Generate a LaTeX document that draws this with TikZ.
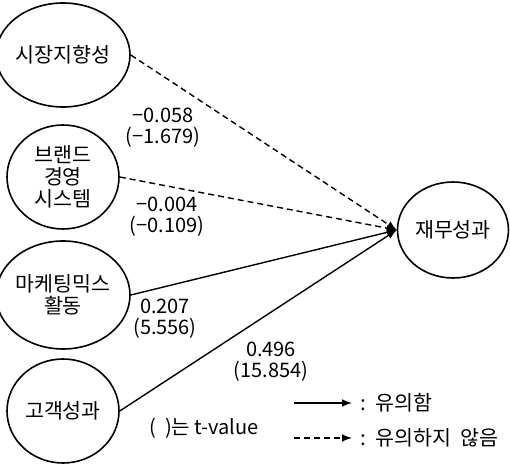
\documentclass[tikz,border=0pt]{standalone}
\usepackage{fontspec}
\setmainfont{Noto Sans CJK KR}
\usetikzlibrary{shapes.geometric,positioning}
\tikzset{lat/.style={draw,ellipse,line width=0.8pt,inner sep=0pt,minimum width=56pt,minimum height=52pt,align=center},
  coef/.style={align=center,inner sep=0pt,font=\fontsize{10}{10.5}\selectfont},
  sig/.style={line width=0.7pt,-latex},
  nsig/.style={sig,dash pattern=on 3pt off 2pt}}

\begin{document}
\begin{tikzpicture}[x=0.5pt,y=-0.5pt,font=\fontsize{10.3}{11}\selectfont]
                \useasboundingbox (0,0) rectangle (510,470);
                \node[lat] (mo) at (63,55) {시장지향성};
                \node[lat] (bm) at (63,177) {브랜드\\경영\\시스템};
                \node[lat,minimum height=54pt] (mm) at (63,295) {마케팅믹스\\활동};
                \node[lat] (cp) at (63,411) {고객성과};
                \node[lat,minimum width=55.5pt,minimum height=48pt] (fp) at (453,230) {재무성과};
                \draw[nsig] (mo.east) -- (fp.west);
                \draw[nsig] (bm.east) -- (fp.west);
                \draw[sig] (mm.east) -- (fp.west);
                \draw[sig] (cp.east) -- (fp.west);
                % path coefficients
                \node[coef] (c1) at (163,128) {−0.058\\(−1.679)};
                \node[coef] (c2) at (167,217) {−0.004\\(−0.109)};
                \node[coef] (c3) at (165,319) {0.207\\(5.556)};
                \node[coef] (c4) at (271,362) {0.496\\(15.854)};
                \node[coef] (tv) at (204,428) {(\ \ )는 t-value};
                % legend
                \coordinate (s1) at (294,403);
                \coordinate (s2) at (352,403);
                \coordinate (n1) at (294,438);
                \coordinate (n2) at (352,438);
                \draw[sig] (s1) -- (s2);
                \draw[nsig] (n1) -- (n2);
                \node[anchor=west,inner sep=0pt] (l1) at (360,403) {:\ \ 유의함};
                \node[anchor=west,inner sep=0pt] (l2) at (360,438) {:\ \ 유의하지 \ 않음};
            \end{tikzpicture}
\end{document}
